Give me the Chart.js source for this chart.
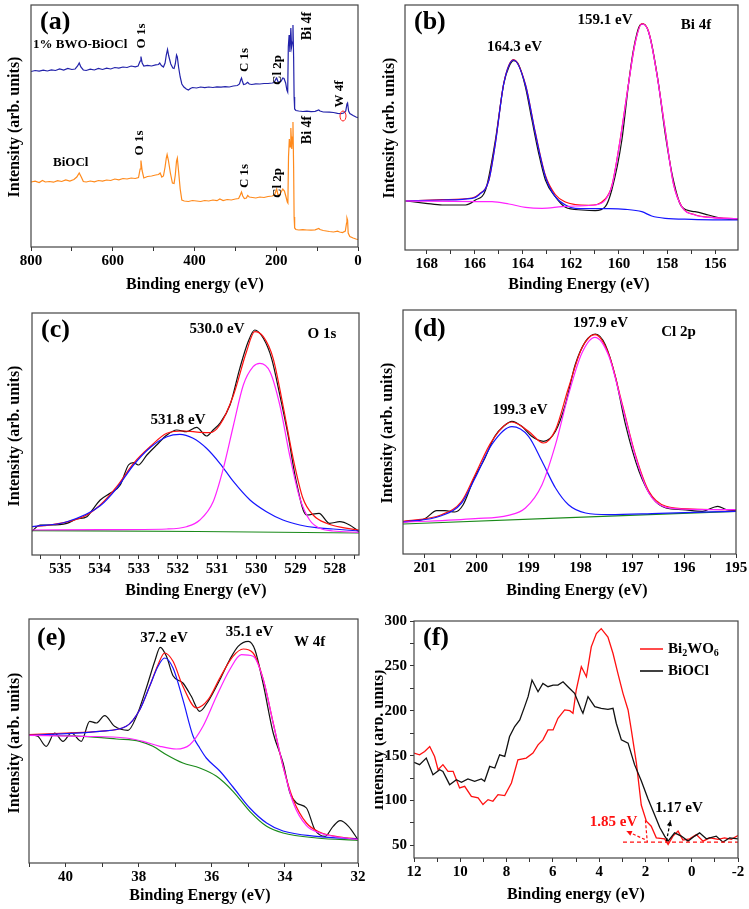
<!DOCTYPE html>
<html>
<head>
<meta charset="utf-8">
<script src="https://cdn.jsdelivr.net/npm/chart.js@4.4.0/dist/chart.umd.min.js"></script>
<style>
  body { margin: 0; background: #fff; width: 749px; height: 909px; position: relative; overflow: hidden; }
  canvas { position: absolute; }
</style>
</head>
<body>
<canvas id="pa"></canvas>
<canvas id="pb"></canvas>
<canvas id="pc"></canvas>
<canvas id="pd"></canvas>
<canvas id="pe"></canvas>
<canvas id="pf"></canvas>
<script>
// ---- (a) survey spectra: binding energy (eV) / intensity (arb.)
var aBlueE = [800,790,780,770,760,750,740,730,720,710,700,692,686,682,678,672,665,655,645,635,625,615,605,595,585,575,565,555,545,538,533,531,528,524,515,505,495,488,485,481,476,472,469,466,463,458,453,450,447,444,442,439,435,431,426,420,415,410,405,395,385,375,365,355,345,335,325,315,305,295,290,287,285,283,280,275,270,266,260,250,240,230,220,210,205,201,199,196,193,188,184,181,177,174,172,170.5,168.5,166.5,164.3,162.5,160.5,159.1,157.5,156.3,155,152,145,135,125,115,105,96,93,85,70,60,50,42,35,30,27,25.5,23,20,12,5,0];
var aBlueI = [175.5,176.5,175.8,176.8,176,177.2,176.5,178,177,178.5,177.5,178,181,184,180,177,176.5,177.8,177,178.5,177.5,178.8,178,179.5,178.8,180,179.5,181,180.2,181,186,190.5,184,181,181.7,181,182.2,182.5,184,181.5,180,184,192,197.5,191,183,179,178.5,183,192,190,180,170,163,160,158,157,158.5,159.5,159,160,159.3,160,159.5,160.2,159.8,160.3,160,161,161.5,163,167,169,166,162.5,163,164.7,163,162.5,163.2,163,163.5,163.5,164,164.5,168,169,165.5,164.5,166,169,168.5,164,157,155,200,212,195,219,200,205,222,190,150,138,136.5,136,135.5,135.8,135.3,135.7,137,136,135,134.8,134.5,133.7,133.3,134,136,143,144,136,133.5,131.5,130,129.3];
var aOrangeE = [800,790,780,772,765,755,745,735,725,715,705,695,688,682,677,672,665,655,645,635,625,615,605,595,585,575,565,555,545,537,533,531,528,524,515,505,495,488,484,480,476,472,469,467,464,459,454,450,447,444,442,439,435,431,425,415,405,395,385,375,365,355,345,338,330,320,310,300,292,288,285,282,278,273,270,266,258,250,240,230,220,210,204,201,199,196,192,188,184,180,176,173,171.5,170,168,166,164.3,162,160.5,159.1,157.5,156.3,155,152,145,135,125,115,105,96,93,85,70,60,50,45,38,31,28,27,25.5,24,20,12,5,0];
var aOrangeI = [65,65.8,64.5,66.5,65,65.5,64.8,66.3,65.5,67,66,67.5,70,74,70,65.5,65,66,65.2,66.5,65.8,67,66.5,68,67.2,68.5,68,69,68.5,69.5,78,86.5,76,69,70.5,71,72,72.5,74,70,71,80,89,92.5,87,74,64,63.5,72,86,89,76,58,47,46,45.5,46.5,46,45.5,46.5,46,47,46.3,48,46.5,47.5,47,48,48.5,52,55,51,48.5,49,51.5,50,49.5,49,50,49.5,50.5,51,52,56,58,52.5,52,55,58,56,50,45,44,90,108,100,119,98,110,125,80,30,19,17.5,17,17.3,17,16.8,17.2,18.5,17.5,16.5,15.5,15,15.8,15,14.5,16,24,29,27,14,10.5,9,8,7.5];

// ---- (b) Bi 4f
var bDataE = [168.87,168.04,167.35,166.38,165.97,165.55,165.14,164.79,164.58,164.38,164.17,163.89,163.62,163.34,163.06,162.65,162.23,161.54,160.99,160.57,160.30,159.88,159.60,159.40,159.12,158.98,158.71,158.36,158.08,157.74,157.39,156.84,156.28,155.73,155.05];
var bDataI = [49,46.7,45,45,50,60,110,166.7,183,189.3,185,163,130,96.7,70,53.3,42.7,40,39.3,43.3,60,110,166.7,200,225,226,213,166.7,116.7,70,43.3,38.3,35,31.7,30.7];
var bEnvE = [168.87,167.35,166.11,165.83,165.41,165.14,164.79,164.38,163.89,163.48,163.06,162.65,162.23,161.82,161.26,160.57,160.30,159.95,159.60,159.33,159.05,158.77,158.43,158.08,157.74,157.39,156.84,156.28,155.05];
var bEnvI = [49,50.3,52,55.5,70,107,167,190.3,165.5,117.5,74.5,55.5,48,45.5,44.7,51,64,110.5,167,207,226.5,218.7,177,120.3,67,43.5,35.2,32.8,31.3];
var bPk1E = [168.87,167.35,166.11,165.83,165.41,165.14,164.79,164.38,163.89,163.48,163.06,162.65,162.23,161.82,160.43,159.74,159.05,158.64,158.08,156.98,155.05];
var bPk1I = [49,50,51.7,55,70,106.7,166.7,190,165,116.7,73.3,53.3,45,41.7,41.3,40.7,38.3,34,31.7,30.7,30];
var bPk2E = [168.87,165.28,164.58,163.89,163.20,162.37,161.82,160.99,160.57,160.30,159.95,159.60,159.33,159.05,158.77,158.43,158.08,157.74,157.39,156.84,156.28,155.05];
var bPk2I = [49,48.3,46,42.7,41.7,43.3,44,45,50,63.3,110,166.7,206.7,226,218.3,176.7,120,66.7,43.3,35,32.7,31.3];

// ---- (c) O 1s
var cDataE = [535.72,535.51,535.25,534.83,534.58,534.32,534.15,533.98,533.73,533.47,533.26,533.13,533.01,532.79,532.54,532.28,532.03,531.78,531.52,531.27,531.10,530.93,530.67,530.42,530.21,530.04,529.82,529.61,529.40,529.19,528.98,528.72,528.40,528.13,527.87,527.62,527.38];
var cDataI = [24,30,30,31.7,36,38.3,46.7,55,61.7,70,90,92.3,90,100,110,120,125,123.3,127.7,119,125,131.7,150,186.7,213,225,216.7,196.7,160,120,73.3,40,41.7,31.7,33.3,30,23.3];
var cEnvE = [535.72,535.25,534.41,533.98,533.56,533.13,532.71,532.28,531.86,531.44,531.18,530.93,530.58,530.25,530.04,529.82,529.57,529.32,529.06,528.81,528.55,528.21,527.79,527.38];
var cEnvI = [28.3,30,38.3,50,68.3,91.7,108.3,121.7,124,122.7,122.3,130,160,203.3,223.3,218.3,196.7,150,96.7,56.7,40,31.7,27.3,25];
var cPk1E = [535.72,534.83,533.98,533.56,533.13,532.71,532.28,531.95,531.61,531.27,530.93,530.58,530.16,529.74,529.32,528.89,528.47,528.04,527.38];
var cPk1I = [28.3,33.3,49.3,66.7,90,107.3,118.3,120.7,116.7,106.7,91.7,73.3,55,43.3,35,30,27.3,26,24];
var cPk2E = [535.72,533.98,532.28,531.78,531.44,531.10,530.84,530.58,530.33,530.08,529.91,529.65,529.40,529.15,528.89,528.64,528.38,528.04,527.38];
var cPk2I = [25,25.3,26,28.3,35,53.3,86.7,130,170,188.3,191.7,183.3,150,100,56.7,35,26.7,24,22.7];
var cBackE = [535.72,531.5,527.38];
var cBackI = [24.3,23.5,22];

// ---- (d) Cl 2p
var dDataE = [201.42,201.00,200.77,200.61,200.42,200.26,200.06,199.84,199.65,199.48,199.32,199.13,198.94,198.71,198.48,198.29,198.10,197.90,197.71,197.52,197.32,197.13,196.87,196.61,196.35,196.03,195.65,195.35,195.19,195.0];
var dDataI = [32,35.3,43.3,43.3,42,49.3,74.3,96,117.7,127.7,132.7,127.7,117.7,112.7,122.7,149.3,189.3,212.7,220,209.3,176,129.3,82.7,56,46,44.3,42.7,47.7,44.3,43.3];
var dEnvE = [201.42,200.68,200.29,200.03,199.71,199.32,199.00,198.71,198.48,198.23,197.97,197.72,197.45,197.19,196.94,196.68,196.35,195.84,195.0];
var dEnvI = [32.7,39.3,52.7,79.3,112.7,132,122.7,111,124.3,166,206,219.3,199.3,149.3,99.3,62.7,47.7,45,44.3];
var dPk1E = [201.42,200.68,200.29,200.03,199.71,199.32,199.00,198.74,198.48,198.23,197.90,197.45,196.48,195.0];
var dPk1I = [32,38.3,51,76,109.3,127.3,117.7,92.7,66,49.3,41,39.3,40.7,42.7];
var dPk2E = [201.42,200.03,199.39,199.06,198.74,198.48,198.23,197.97,197.72,197.45,197.19,196.94,196.68,196.35,195.84,195.0];
var dPk2I = [31.7,35.3,38.7,46,69.3,109.3,159.3,201,216.7,197.7,147.7,97.7,61,46.7,44.7,44.3];
var dBackE = [201.42,195.0];
var dBackI = [30,42.7];

// ---- (e) W 4f
var eDataE = [41.0,40.76,40.53,40.30,40.07,39.84,39.57,39.34,39.16,38.93,38.66,38.29,38.06,37.79,37.56,37.41,37.24,37.06,36.79,36.56,36.33,36.10,35.78,35.51,35.28,35.00,34.82,34.59,34.32,34.05,33.86,33.68,33.41,33.18,32.90,32.68,32.49,32.26,32.0];
var eDataI = [128.3,126.7,116.7,130,121.7,130,121.7,141.7,140,147.3,136.7,132.7,146.7,175,201.7,215.7,206.7,187.3,180,166.7,151.7,161.7,183.3,203.3,216.7,221.7,213.3,178.3,130,100,70,60,55,33.3,26.7,36.7,42.3,36.7,23.3];
var eEnvE = [41.0,39.98,39.07,38.34,37.97,37.70,37.47,37.29,37.06,36.79,36.42,36.10,35.78,35.42,35.14,34.87,34.59,34.32,34.05,33.77,33.41,33.04,32.49,32.0];
var eEnvI = [128.3,130,131.7,136.7,153.3,176.7,198.3,210,201.7,176.7,155,163.3,185,206.7,214,210,183.3,140,96.7,63.3,40,30.7,26,24];
var ePk1E = [41.0,39.98,39.07,38.34,37.97,37.70,37.47,37.29,37.06,36.79,36.51,36.33,36.15,35.78,35.42,34.96,34.50,34.05,33.13,32.0];
var ePk1I = [127.7,129.3,131.7,136.7,153.3,176.7,196.7,205,195,163.3,126.7,115,105,92,76,55,40,32,26.7,24];
var ePk2E = [41.0,39.53,38.34,37.88,37.42,36.97,36.60,36.24,35.87,35.51,35.19,34.87,34.59,34.32,34.05,33.77,33.41,33.04,32.0];
var ePk2I = [127.7,126.7,125,121.7,116.7,114,118.3,136.7,166.7,193.3,208.3,206.7,183.3,140,96.7,60,37.3,30,23.3];
var eBackE = [41.0,39.53,38.61,37.97,37.61,37.24,36.79,36.33,35.87,35.42,34.96,34.50,34.05,33.13,32.0];
var eBackI = [127.7,126.7,124,121.7,116.7,108.3,100,95,86.7,71.7,51.7,36.7,30,25,22.7];

// ---- (f) valence band
var fBiOClE = [12,11.76,11.47,11.18,10.89,10.75,10.46,10.17,9.95,9.67,9.38,9.09,8.95,8.73,8.51,8.3,8.08,7.87,7.65,7.43,7.22,7.07,6.9,6.64,6.43,6.21,5.99,5.78,5.56,5.35,5.06,4.77,4.7,4.48,4.19,3.91,3.62,3.4,3.26,3.04,2.75,2.47,2.18,1.89,1.6,1.38,1.17,1.02,0.74,0.45,0.16,-0.13,-0.34,-0.63,-1.06,-1.35,-1.64,-2];
var fBiOClI = [142.5,140,147.3,128.8,134.3,132.5,117.7,123.2,120.3,124,121.4,124,121.4,138,136.2,151,149.1,171.3,182.4,189.8,204.6,215.7,234.2,221.2,230.5,226.8,228.6,228.6,232.3,226.8,219.4,200.9,197.2,215.7,204.6,202.7,201.6,202.7,186.1,167.6,163.9,140,122,102,84,70,60.4,54.8,64,60.4,54.8,60.4,64,57.4,60.4,53.7,58.5,57.4];
var fBWOE = [12,11.76,11.54,11.32,11.11,10.96,10.75,10.53,10.31,10.03,9.81,9.52,9.23,9.02,8.8,8.59,8.37,8.08,7.79,7.51,7.15,6.86,6.64,6.43,6.21,5.99,5.78,5.49,5.27,5.13,4.99,4.77,4.55,4.34,4.12,3.91,3.62,3.4,3.19,2.97,2.75,2.61,2.39,2.18,1.96,1.75,1.53,1.17,1.02,0.81,0.59,0.38,0.09,-0.2,-0.49,-0.78,-1.14,-1.42,-1.71,-2];
var fBWOI = [152.8,151,154.7,160.2,149.1,134.3,140,132.5,132.5,114,115.8,104.7,102.9,95.5,101,99.2,106.6,105.5,119.5,145.4,147.3,152.8,162,167.6,178.7,178.7,191.6,200.9,200.1,197.2,223.1,249,237.9,271.2,286,291.5,282.2,263.8,241.6,219.4,200.9,178.7,141.7,95,77,71.4,58.5,57.4,51.1,60.4,65.9,55.9,57.4,62.2,54.8,58.5,56.7,58.5,56.7,61.1];
var fBaseE = [2.97,-2];
var fBaseI = [53.7,53.7];
var fTanE = [2.0,1.92];
var fTanI = [78,53.7];
var fArrowRed = [[2.03,56.7],[2.82,66]];
var fArrowBlack = [[1.09,54.8],[0.92,77.8]];

var FONT = '"Liberation Serif", "Times New Roman", serif';
Chart.defaults.font.family = FONT;
Chart.defaults.color = '#000';

var BLACK = '#111111', RED = '#ff1010', BLUE = '#1515ff', MAG = '#ff22ff', GREEN = '#1a8a1a';

function pts(E, I) {
  return E.map(function (e, i) { return {x: e, y: I[i]}; });
}

function isMajor(v, m) {
  var q = v / m;
  return Math.abs(q - Math.round(q)) < 1e-6;
}

function drawTexts(ctx, items, ox, oy) {
  items.forEach(function (it) {
    var o = it[4] || {};
    ctx.save();
    ctx.font = 'bold ' + it[3] + 'px ' + FONT;
    ctx.fillStyle = o.c || '#000';
    ctx.textAlign = o.a || 'center';
    ctx.textBaseline = 'middle';
    ctx.translate(it[1] - ox, it[2] - oy);
    if (o.v) ctx.rotate(-Math.PI / 2);
    ctx.fillText(it[0], 0, 0);
    ctx.restore();
  });
}

function arrow(ctx, x1, y1, x2, y2, col) {
  ctx.save();
  ctx.strokeStyle = col; ctx.fillStyle = col; ctx.lineWidth = 1.2;
  ctx.setLineDash([3, 2]);
  ctx.beginPath(); ctx.moveTo(x1, y1); ctx.lineTo(x2, y2); ctx.stroke();
  ctx.setLineDash([]);
  var a = Math.atan2(y2 - y1, x2 - x1);
  ctx.beginPath();
  ctx.moveTo(x2, y2);
  ctx.lineTo(x2 - 6 * Math.cos(a - 0.45), y2 - 6 * Math.sin(a - 0.45));
  ctx.lineTo(x2 - 6 * Math.cos(a + 0.45), y2 - 6 * Math.sin(a + 0.45));
  ctx.closePath(); ctx.fill();
  ctx.restore();
}

function panel(cfg) {
  var c = document.getElementById(cfg.id);
  var ox = cfg.box[0], oy = cfg.box[1], w = cfg.box[2], h = cfg.box[3];
  c.width = w; c.height = h;
  c.style.left = ox + 'px'; c.style.top = oy + 'px';
  var l = cfg.area[0] - ox, r = cfg.area[1] - ox, t = cfg.area[2] - oy, b = cfg.area[3] - oy;
  var yShow = !!cfg.yTicks;
  var tickFont = {family: FONT, size: 15, weight: 'bold'};

  var yScale = {
    type: 'linear', display: yShow, min: cfg.y[0], max: cfg.y[1]
  };
  if (yShow) {
    yScale.afterFit = function (s) { s.width = l; };
    yScale.border = {display: false};
    yScale.grid = {drawOnChartArea: false, drawTicks: true, tickLength: 4, color: '#333'};
    yScale.ticks = {stepSize: cfg.yTicks[0], includeBounds: false, autoSkip: false, padding: 3,
      font: tickFont, color: '#000',
      callback: function (v) { return isMajor(v, cfg.yTicks[1]) ? String(Math.round(v)) : ''; }};
  }

  var framePlugin = {
    id: 'frame',
    afterDraw: function (ch) {
      var ctx = ch.ctx, a = ch.chartArea;
      ctx.save();
      if (cfg.draw) cfg.draw(ctx, ch, ox, oy);
      ctx.strokeStyle = '#444'; ctx.lineWidth = 1.2;
      ctx.strokeRect(a.left, a.top, a.right - a.left, a.bottom - a.top);
      drawTexts(ctx, cfg.texts, ox, oy);
      ctx.restore();
    }
  };

  return new Chart(c, {
    type: 'line',
    data: {
      datasets: cfg.series.map(function (s) {
        return {
          data: pts(s.E, s.I), borderColor: s.c, borderWidth: s.w || 1.2,
          borderDash: s.dash || [], pointRadius: 0, fill: false,
          tension: 0, cubicInterpolationMode: cfg.smooth && !s.dash ? 'monotone' : 'default'
        };
      })
    },
    options: {
      responsive: false, animation: false, events: [],
      layout: {padding: {left: yShow ? 0 : l, right: w - r, top: t, bottom: 0}},
      plugins: {legend: {display: false}, tooltip: {enabled: false}},
      scales: {
        x: {
          type: 'linear', reverse: true, min: cfg.x[0], max: cfg.x[1],
          afterFit: function (s) { s.height = h - b; },
          border: {display: false},
          grid: {drawOnChartArea: false, drawTicks: true, tickLength: 4, color: '#333'},
          ticks: {stepSize: cfg.x[2], includeBounds: false, autoSkip: false, maxRotation: 0, padding: 1,
            font: tickFont, color: '#000',
            callback: function (v) { return isMajor(v, cfg.x[3]) ? String(Math.round(v)) : ''; }}
        },
        y: yScale
      }
    },
    plugins: [framePlugin]
  });
}

panel({
  id: 'pa', box: [0, 0, 375, 298], area: [31, 358, 5, 247],
  x: [0, 800, 100, 200], y: [0, 242],
  series: [
    {E: aBlueE, I: aBlueI, c: '#2222aa'},
    {E: aOrangeE, I: aOrangeI, c: '#ff8a1c'}
  ],
  texts: [
    ['(a)', 40, 22, 26, {a: 'left'}],
    ['1% BWO-BiOCl', 33, 45, 13, {a: 'left'}],
    ['O 1s', 142, 36, 13, {v: 1}],
    ['C 1s', 245, 60, 13, {v: 1}],
    ['Cl 2p', 278, 70, 13, {v: 1}],
    ['Bi 4f', 307, 26, 14, {v: 1}],
    ['W 4f', 340, 94, 13, {v: 1}],
    ['BiOCl', 53, 163, 13, {a: 'left'}],
    ['O 1s', 140, 143, 13, {v: 1}],
    ['C 1s', 245, 176, 13, {v: 1}],
    ['Cl 2p', 278, 183, 13, {v: 1}],
    ['Bi 4f', 307, 130, 14, {v: 1}],
    ['Binding energy (eV)', 195, 285, 16],
    ['Intensity (arb. units)', 15, 127, 16, {v: 1}]
  ],
  draw: function (ctx) {
    ctx.save();
    ctx.strokeStyle = '#ff2020'; ctx.lineWidth = 1;
    ctx.beginPath(); ctx.ellipse(343, 116, 3, 5, 0, 0, Math.PI * 2); ctx.stroke();
    ctx.restore();
  }
});

panel({
  id: 'pb', box: [375, 0, 374, 298], area: [405, 738, 5, 250],
  x: [155.05, 168.9, 1, 2], y: [0, 245], smooth: true,
  series: [
    {E: bPk2E, I: bPk2I, c: MAG},
    {E: bPk1E, I: bPk1I, c: BLUE},
    {E: bEnvE, I: bEnvI, c: RED},
    {E: bDataE, I: bDataI, c: BLACK}
  ],
  texts: [
    ['(b)', 414, 22, 26, {a: 'left'}],
    ['164.3 eV', 514.5, 47, 15],
    ['159.1 eV', 605, 20, 15],
    ['Bi 4f', 696, 25, 15],
    ['Binding Energy (eV)', 579, 285, 16],
    ['Intensity (arb. units)', 390, 128, 16, {v: 1}]
  ]
});

panel({
  id: 'pc', box: [0, 298, 375, 302], area: [32, 359, 313, 555],
  x: [527.38, 535.72, 0.5, 1], y: [0, 242], smooth: true,
  series: [
    {E: cPk2E, I: cPk2I, c: MAG},
    {E: cPk1E, I: cPk1I, c: BLUE},
    {E: cEnvE, I: cEnvI, c: RED},
    {E: cDataE, I: cDataI, c: BLACK},
    {E: cBackE, I: cBackI, c: GREEN}
  ],
  texts: [
    ['(c)', 41, 330, 26, {a: 'left'}],
    ['530.0 eV', 217, 329, 15],
    ['O 1s', 322, 334, 15],
    ['531.8 eV', 178, 420, 15],
    ['Binding Energy (eV)', 196, 591, 16],
    ['Intensity (arb. units)', 15, 436, 16, {v: 1}]
  ]
});

panel({
  id: 'pd', box: [375, 298, 374, 302], area: [403, 736, 310, 554],
  x: [195, 201.42, 0.5, 1], y: [0, 244], smooth: true,
  series: [
    {E: dPk2E, I: dPk2I, c: MAG},
    {E: dPk1E, I: dPk1I, c: BLUE},
    {E: dEnvE, I: dEnvI, c: RED},
    {E: dDataE, I: dDataI, c: BLACK},
    {E: dBackE, I: dBackI, c: GREEN}
  ],
  texts: [
    ['(d)', 414, 329, 26, {a: 'left'}],
    ['197.9 eV', 600.5, 323, 15],
    ['Cl 2p', 678.5, 332, 15],
    ['199.3 eV', 520, 410, 15],
    ['Binding Energy (eV)', 577, 591, 16],
    ['Intensity (arb. units)', 388, 433, 16, {v: 1}]
  ]
});

panel({
  id: 'pe', box: [0, 600, 375, 309], area: [29, 358, 619, 863],
  x: [32, 41, 1, 2], y: [0, 244], smooth: true,
  series: [
    {E: ePk2E, I: ePk2I, c: MAG},
    {E: ePk1E, I: ePk1I, c: BLUE},
    {E: eEnvE, I: eEnvI, c: RED},
    {E: eBackE, I: eBackI, c: GREEN},
    {E: eDataE, I: eDataI, c: BLACK}
  ],
  texts: [
    ['(e)', 37, 638, 26, {a: 'left'}],
    ['37.2 eV', 164, 638, 15],
    ['35.1 eV', 249.5, 632, 15],
    ['W 4f', 309.5, 642, 15],
    ['Binding Energy (eV)', 200, 896, 16],
    ['Intensity (arb. units)', 15, 743, 16, {v: 1}]
  ]
});

panel({
  id: 'pf', box: [375, 600, 374, 309], area: [414, 738, 621, 858],
  x: [-2, 12, 1, 2], y: [36, 300], yTicks: [25, 50],
  series: [
    {E: fBaseE, I: fBaseI, c: RED, dash: [4, 3]},
    {E: fTanE, I: fTanI, c: RED, dash: [3, 2]},
    {E: fBiOClE, I: fBiOClI, c: BLACK, w: 1.3},
    {E: fBWOE, I: fBWOI, c: RED, w: 1.3}
  ],
  texts: [
    ['(f)', 423, 638, 26, {a: 'left'}],
    ['1.85 eV', 613.5, 822, 15, {c: '#ff1010'}],
    ['1.17 eV', 679, 808, 15],
    ['BiOCl', 668, 671, 15, {a: 'left'}],
    ['Binding energy (eV)', 576, 895, 16],
    ['Intensity (arb. units)', 379, 740, 16, {v: 1}]
  ],
  draw: function (ctx, ch, ox, oy) {
    var xs = ch.scales.x, ys = ch.scales.y;
    arrow(ctx, xs.getPixelForValue(fArrowRed[0][0]), ys.getPixelForValue(fArrowRed[0][1]),
      xs.getPixelForValue(fArrowRed[1][0]), ys.getPixelForValue(fArrowRed[1][1]), RED);
    arrow(ctx, xs.getPixelForValue(fArrowBlack[0][0]), ys.getPixelForValue(fArrowBlack[0][1]),
      xs.getPixelForValue(fArrowBlack[1][0]), ys.getPixelForValue(fArrowBlack[1][1]), '#000');
    // legend
    ctx.save();
    ctx.lineWidth = 1.5;
    ctx.strokeStyle = RED;
    ctx.beginPath(); ctx.moveTo(640 - ox, 649 - oy); ctx.lineTo(663 - ox, 649 - oy); ctx.stroke();
    ctx.strokeStyle = '#000';
    ctx.beginPath(); ctx.moveTo(640 - ox, 671 - oy); ctx.lineTo(663 - ox, 671 - oy); ctx.stroke();
    ctx.fillStyle = '#000'; ctx.textBaseline = 'middle'; ctx.textAlign = 'left';
    var x = 668 - ox, y = 649 - oy;
    [['Bi', 15, 0], ['2', 10, 4], ['WO', 15, 0], ['6', 10, 4]].forEach(function (run) {
      ctx.font = 'bold ' + run[1] + 'px ' + FONT;
      ctx.fillText(run[0], x, y + run[2]);
      x += ctx.measureText(run[0]).width;
    });
    ctx.restore();
  }
});
</script>
</body>
</html>
